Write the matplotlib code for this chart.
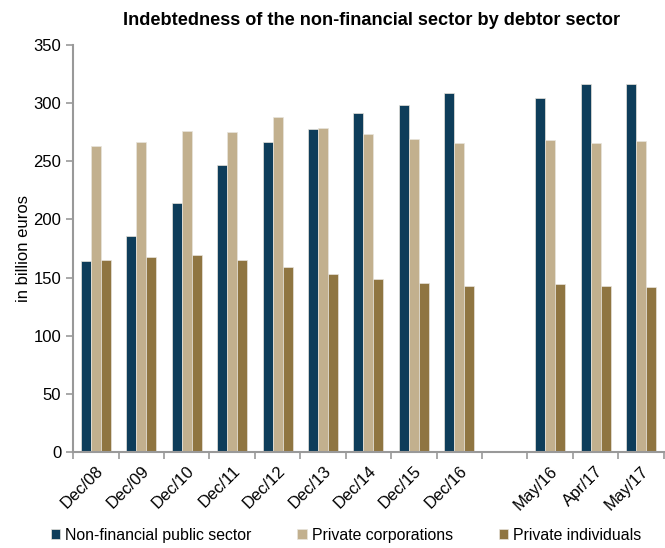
import matplotlib
matplotlib.use('Agg')
import matplotlib.pyplot as plt
import numpy as np

plt.rcParams['font.family'] = ['Liberation Sans', 'DejaVu Sans']

labels = ['Dec/08', 'Dec/09', 'Dec/10', 'Dec/11', 'Dec/12', 'Dec/13', 'Dec/14',
          'Dec/15', 'Dec/16', '', 'May/16', 'Apr/17', 'May/17']
public = [164, 185.5, 214, 247, 266.5, 277.5, 291.5, 298, 308.5, np.nan, 304.5, 316, 316.5]
corporations = [263, 266.5, 276, 275, 288, 279, 273.5, 269, 265.5, np.nan, 268.5, 266, 267.5]
individuals = [165, 168, 169, 165, 159, 153, 149, 145.5, 142.5, np.nan, 144.5, 142.5, 142]

names = ['Non-financial public sector', 'Private corporations', 'Private individuals']
colors = ['#0E3D5A', '#C2B08E', '#8F7541']

fig = plt.figure(figsize=(6.65, 5.48), dpi=100)
ax = fig.add_axes([0.11, 0.175, 0.888, 0.743])

x = np.arange(len(labels))
w = 0.22
for i, (vals, nm, c) in enumerate(zip([public, corporations, individuals], names, colors)):
    ax.bar(x + (i - 1) * w, vals, w, color=c, label=nm, edgecolor='#e8e4dc', linewidth=0.5)

ax.set_xlim(-0.5, len(labels) - 0.5)
ax.set_ylim(0, 350)
ax.set_yticks(np.arange(0, 351, 50))
ax.set_xticks(x)
ax.set_xticklabels(labels, rotation=45, ha='right', rotation_mode='anchor', fontsize=12)
ax.set_xticks(np.arange(-0.5, len(labels), 1), minor=True)
ax.tick_params(axis='x', which='major', length=0, pad=8)
ax.tick_params(axis='x', which='minor', length=5, color='#999999', width=1.2)
ax.tick_params(axis='y', length=5, color='#999999', width=1.2, labelsize=12)

for s in ['top', 'right']:
    ax.spines[s].set_visible(False)
for s in ['left', 'bottom']:
    ax.spines[s].set_color('#999999')
    ax.spines[s].set_linewidth(1.5)

ax.set_ylabel('in billion euros', fontsize=12, labelpad=2)
fig.text(0.558, 0.962, 'Indebtedness of the non-financial sector by debtor sector',
         ha='center', va='center', fontsize=13.1, fontweight='bold')

fig.legend(loc='lower left', bbox_to_anchor=(0.062, -0.008), ncol=3, frameon=False,
           fontsize=11.4, handlelength=0.6, handleheight=0.6, handletextpad=0.3,
           columnspacing=2.9, borderaxespad=0.2)

fig.savefig('out.png', dpi=100)
